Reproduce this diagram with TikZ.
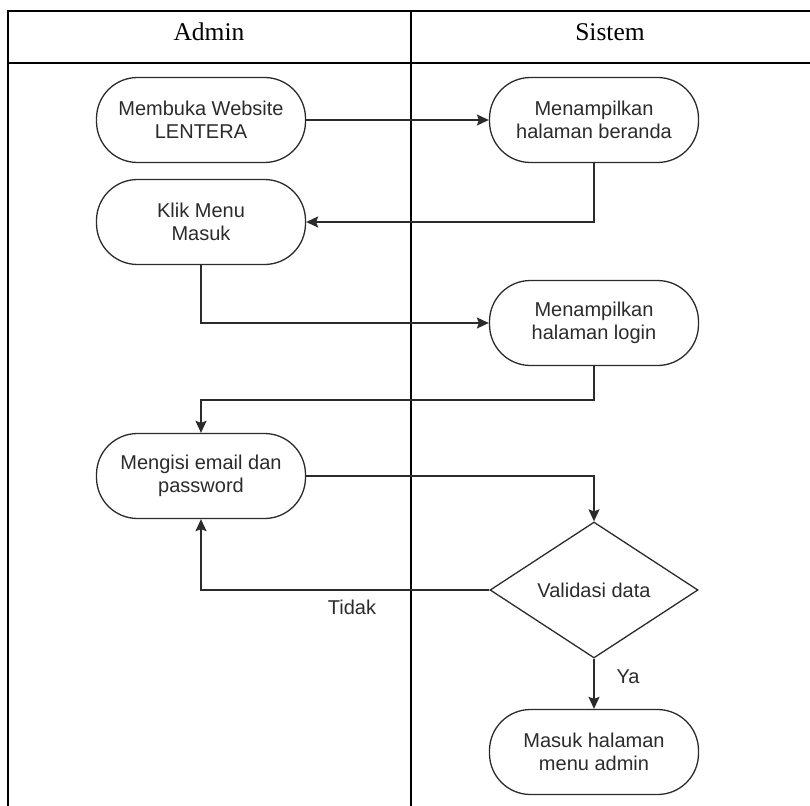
\documentclass[tikz,border=0pt]{standalone}
\usepackage{fontspec}
\setmainfont{Liberation Serif}
\newfontfamily\flowfont{Liberation Sans}
\usetikzlibrary{shapes.geometric,arrows.meta}
\definecolor{inkgray}{HTML}{2B2B2B}
\tikzset{
  lane/.style={line width=2pt,black},
  lanetitle/.style={font=\fontsize{25.5}{28}\selectfont,inner sep=0pt},
  activity/.style={draw=inkgray,line width=1.3pt,rounded corners=41pt,
    minimum width=209pt,minimum height=85pt,align=center,inner sep=0pt,
    text=inkgray,font=\flowfont\fontsize{20}{23}\selectfont},
  decision/.style={draw=inkgray,line width=1.3pt,diamond,aspect=1.53,
    minimum width=208pt,minimum height=136pt,inner sep=0pt,align=center,
    text=inkgray,font=\flowfont\fontsize{20}{23}\selectfont},
  flow/.style={draw=inkgray,line width=1.4pt,-{Stealth[length=12pt,width=11pt,inset=2pt]}},
  flowlabel/.style={text=inkgray,font=\flowfont\fontsize{20}{23}\selectfont,inner sep=0pt}
}
\begin{document}
\begin{tikzpicture}[x=1pt,y=-1pt]
\useasboundingbox (0,0) rectangle (810,805);
% swimlane table
\draw[lane] (7.5,11) -- (812,11);
\draw[lane] (7.5,63) -- (812,63);
\draw[lane] (7.5,10) -- (7.5,806);
\draw[lane] (411,10) -- (411,806);
\node[lanetitle] (admin) at (209,32) {Admin};
\node[lanetitle] (sistem) at (610,32) {Sistem};

% activities
\node[activity] (buka) at (201,120) {Membuka Website\\LENTERA};
\node[activity] (beranda) at (594,120) {Menampilkan\\halaman beranda};
\node[activity] (klik) at (201,222) {Klik Menu\\Masuk};
\node[activity] (login) at (594,323) {Menampilkan\\halaman login};
\node[activity] (isi) at (201,476) {Mengisi email dan\\password};
\node[decision] (valid) at (594,590) {Validasi data};
\node[activity] (masuk) at (594,752) {Masuk halaman\\menu admin};

% flows
\draw[flow] (buka.east) -- (beranda.west);
\draw[flow] (beranda.south) |- (klik.east);
\draw[flow] (klik.south) |- (login.west);
\coordinate (turn) at (594,400);
\draw[flow] (login.south) -- (turn) -| (isi.north);
\draw[flow] (isi.east) -| (valid.north);
\draw[flow] (valid.west) -| (isi.south);
\draw[flow] (valid.south) -- (masuk.north);
\node[flowlabel] (tidak) at (352,607) {Tidak};
\node[flowlabel] (ya) at (628,677) {Ya};
\end{tikzpicture}
\end{document}
